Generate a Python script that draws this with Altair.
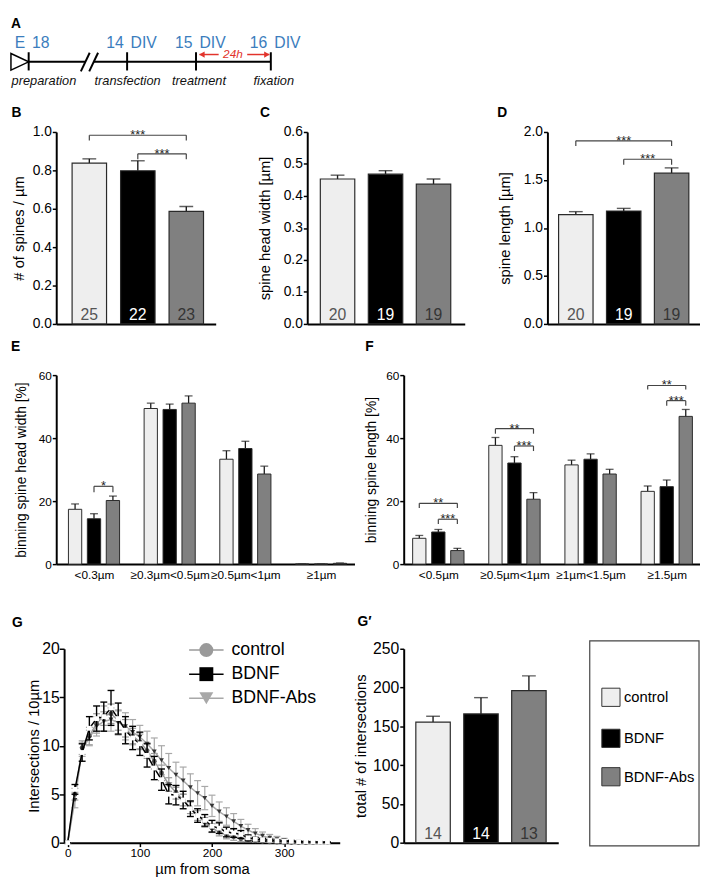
import altair as alt
import pandas as pd

FONT = "Liberation Sans"
BLUE = "#3b7dbd"
RED = "#e2332b"

# ---------------- data ----------------
groups = ["control", "BDNF", "BDNF-Abs"]
bar_fill = ["#eeeeee", "#000000", "#808080"]
n_label_color = ["#555555", "#ffffff", "#353535"]
line_color = ["#9a9a9a", "#000000", "#a8a8a8"]
marker_shape = ["circle", "square", "triangle-down"]

# A: timeline
a_ticks = [22, 122, 192, 268]
a_left = ["E", "14", "15", "16"]
a_right = ["18", "DIV", "DIV", "DIV"]
a_steps = ["preparation", "transfection", "treatment", "fixation"]
a_step_x = [37.5, 122.5, 195, 271]

# B: spine density
spine_density = [0.838, 0.798, 0.586]
spine_density_sem = [0.022, 0.052, 0.026]
spine_density_n = [25, 22, 23]
# C: head width
head_width = [0.453, 0.468, 0.437]
head_width_sem = [0.012, 0.011, 0.016]
head_width_n = [20, 19, 19]
# D: spine length
spine_length = [1.139, 1.177, 1.571]
spine_length_sem = [0.031, 0.027, 0.055]
spine_length_n = [20, 19, 19]

# E: binning head width
width_bins = ["<0.3µm", "≥0.3µm<0.5µm", "≥0.5µm<1µm", "≥1µm"]
width_control = [17.4, 49.4, 33.3, 0.0]
width_control_sem = [1.7, 1.7, 2.7, 0.0]
width_bdnf = [14.4, 49.1, 36.7, 0.0]
width_bdnf_sem = [1.6, 1.7, 2.3, 0.0]
width_abs = [20.2, 51.1, 28.6, 0.25]
width_abs_sem = [1.4, 2.3, 2.5, 0.1]

# F: binning spine length
length_bins = ["<0.5µm", "≥0.5µm<1µm", "≥1µm<1.5µm", "≥1.5µm"]
length_control = [8.2, 37.7, 31.5, 23.1]
length_control_sem = [0.9, 2.5, 1.5, 1.7]
length_bdnf = [10.2, 32.1, 33.3, 24.6]
length_bdnf_sem = [0.8, 2.0, 1.7, 2.1]
length_abs = [4.3, 20.6, 28.6, 46.9]
length_abs_sem = [0.7, 2.1, 1.5, 2.2]

# G: Sholl analysis
distance = [0, 10, 20, 30, 40, 50, 60, 70, 80, 90, 100, 110, 120, 130, 140, 150, 160, 170,
            180, 190, 200, 210, 220, 230, 240, 250, 260, 270, 280, 290, 300, 310, 320, 330,
            340, 350, 360]
ctrl_mean = [0, 5.0, 9.8, 11.0, 12.3, 13.1, 13.3, 12.6, 11.8, 11.0, 10.4, 9.5, 8.4, 7.2, 6.0,
             5.2, 4.4, 3.6, 2.8, 2.1, 1.5, 1.1, 0.8, 0.6, 0.4, 0.3, 0.2, 0.15, 0.1, 0.05, 0.03,
             0.02, 0, 0, 0, 0, 0]
ctrl_sem = [0, 0.6, 0.7, 0.9, 1.0, 1.0, 1.0, 1.0, 0.9, 0.8, 0.8, 0.8, 0.8, 0.8, 0.7, 0.7, 0.6,
            0.6, 0.5, 0.5, 0.45, 0.4, 0.4, 0.35, 0.3, 0.2, 0.15, 0.1, 0.08, 0.05, 0.03, 0.02,
            0, 0, 0, 0, 0]
bdnf_mean = [0, 5.5, 9.3, 11.8, 12.8, 13.0, 13.9, 12.8, 11.6, 10.8, 10.2, 9.0, 7.7, 6.5, 5.0,
             4.9, 4.4, 3.5, 2.8, 2.3, 1.7, 1.5, 1.1, 1.0, 0.85, 0.5, 0.35, 0.3, 0.25, 0.2, 0.15,
             0.15, 0.1, 0.1, 0.08, 0.05, 0.05]
bdnf_sem = [0, 0.5, 0.9, 1.2, 1.3, 1.5, 1.8, 1.6, 1.4, 1.2, 1.2, 1.2, 1.2, 1.1, 1.0, 1.0, 0.9,
            0.8, 0.7, 0.6, 0.6, 0.55, 0.5, 0.45, 0.4, 0.3, 0.2, 0.15, 0.1, 0.1, 0.05, 0.05,
            0.05, 0.05, 0.03, 0.03, 0.02]
abs_mean = [0, 4.4, 9.6, 10.8, 12.0, 12.5, 12.7, 12.4, 12.0, 11.4, 10.9, 10.2, 9.4, 8.5, 7.7,
            7.0, 6.4, 5.7, 5.1, 4.6, 3.8, 3.2, 2.7, 2.2, 1.7, 1.3, 0.95, 0.7, 0.5, 0.35, 0.25,
            0.15, 0.1, 0.05, 0.02, 0, 0]
abs_sem = [0, 0.8, 0.7, 0.8, 1.0, 1.0, 1.2, 1.3, 1.4, 1.3, 1.2, 1.3, 1.4, 1.5, 1.5, 1.3, 1.4,
           1.4, 1.3, 1.2, 1.1, 1.0, 0.9, 0.8, 0.7, 0.6, 0.5, 0.4, 0.35, 0.3, 0.2, 0.15, 0.1,
           0.05, 0.02, 0, 0]

# G': total intersections
total_int = [155.5, 166.0, 196.0]
total_int_sem = [7.5, 21.0, 19.0]
total_int_n = [14, 14, 13]

BAR_STEP = 0.25  # offset of a bar inside its bin group


# ---------------- helpers ----------------
def panel_title(letter, dx, offset):
    return alt.TitleParams(letter, anchor="start", frame="group", dx=dx, offset=offset,
                           fontSize=14, fontWeight="bold", font=FONT, color="black")


def spacer(w, h):
    return alt.Chart(pd.DataFrame({"s": [0]})).mark_point(opacity=0, size=0).properties(
        width=w, height=h)


def bracket_layers(rows, X, Y):
    top = pd.DataFrame(rows)
    top["xmid"] = (top["x1"] + top["x2"]) / 2
    legs = pd.DataFrame([{"x": r[k], "lo": r["ydrop"], "hi": r["ytop"]}
                         for r in rows for k in ("x1", "x2")])
    return [
        alt.Chart(top).mark_rule(color="#444", strokeWidth=1.2).encode(
            x=X("x1"), x2="x2", y=Y("ytop")),
        alt.Chart(legs).mark_rule(color="#444", strokeWidth=1.2).encode(
            x=X("x"), y=Y("lo"), y2="hi"),
        alt.Chart(top).mark_text(baseline="alphabetic", dy=4, fontSize=13, color="#222").encode(
            x=X("xmid"), y=Y("ytop"), text="label:N"),
    ]


def y_axis(values, fmt, title, title_x, height, label_size, title_size, tick=4, pad=1):
    return alt.Axis(values=values, format=fmt, title=title, titleX=title_x, titleY=height / 2,
                    titleAngle=270, titleAlign="center", titleBaseline="middle",
                    titleFontSize=title_size, labelFontSize=label_size, tickSize=tick,
                    labelPadding=pad, grid=False)


def bar_panel(letter, ldx, loff, values, sems, ns, brackets, width, height, x_domain,
              y_max, y_values, y_fmt, y_title, title_x, label_size=14, title_size=15,
              extra=None):
    df = pd.DataFrame({
        "group": groups, "pos": [0, 1, 2], "value": values,
        "top": [v + s for v, s in zip(values, sems)],
        "n": [str(n) for n in ns], "base": [0, 0, 0]})
    xs = alt.Scale(domain=x_domain, nice=False, zero=False)
    ys = alt.Scale(domain=[0, y_max], nice=False)
    xaxis = alt.Axis(labels=False, ticks=False, title=None, grid=False)
    yaxis = y_axis(y_values, y_fmt, y_title, title_x, height, label_size, title_size)

    def X(f):
        return alt.X(f, type="quantitative", scale=xs, axis=xaxis)

    def Y(f):
        return alt.Y(f, type="quantitative", scale=ys, axis=yaxis, stack=None)

    base = alt.Chart(df)
    layers = [
        base.mark_rule(color="#1a1a1a", strokeWidth=1.4).encode(x=X("pos"), y=Y("value"), y2="top"),
        base.mark_tick(orient="horizontal", color="#1a1a1a", size=14, thickness=1.4).encode(
            x=X("pos"), y=Y("top")),
        base.mark_bar(orient="vertical", width=35, stroke="#2a2a2a", strokeWidth=1.2).encode(
            x=X("pos"), y=Y("value"),
            fill=alt.Fill("group:N", scale=alt.Scale(domain=groups, range=bar_fill), legend=None)),
        base.mark_text(baseline="alphabetic", dy=-4, fontSize=16).encode(
            x=X("pos"), y=Y("base"), text="n:N",
            color=alt.Color("group:N", scale=alt.Scale(domain=groups, range=n_label_color),
                            legend=None)),
    ]
    if brackets:
        rows = [{"x1": a, "x2": b, "ytop": t, "ydrop": d, "label": l} for a, b, t, d, l in brackets]
        layers += bracket_layers(rows, X, Y)
    if extra:
        layers += extra
    return alt.layer(*layers).properties(width=width, height=height,
                                         title=panel_title(letter, ldx, loff))


def grouped_panel(letter, ldx, loff, bins, series, sems, brackets, width, height, x_domain,
                  y_title, title_x):
    rows = []
    for gi, g in enumerate(groups):
        for bi in range(len(bins)):
            rows.append({"group": g, "pos": bi + (gi - 1) * BAR_STEP,
                         "value": series[gi][bi], "top": series[gi][bi] + sems[gi][bi]})
    df = pd.DataFrame(rows)
    xs = alt.Scale(domain=x_domain, nice=False, zero=False)
    ys = alt.Scale(domain=[0, 60], nice=False)
    expr = "[" + ",".join("'" + b + "'" for b in bins) + "][datum.value]"
    xaxis = alt.Axis(values=list(range(len(bins))), labelExpr=expr, ticks=False, tickSize=0,
                     labelPadding=6, labelFontSize=12, labelFlush=False, labelOverlap=False,
                     title=None, grid=False)
    yaxis = y_axis([0, 20, 40, 60], "d", y_title, title_x, height, 12, 14)

    def X(f):
        return alt.X(f, type="quantitative", scale=xs, axis=xaxis)

    def Y(f):
        return alt.Y(f, type="quantitative", scale=ys, axis=yaxis, stack=None)

    base = alt.Chart(df)
    layers = [
        base.mark_rule(color="#1a1a1a", strokeWidth=1.3).encode(x=X("pos"), y=Y("value"), y2="top"),
        base.mark_tick(orient="horizontal", color="#1a1a1a", size=8, thickness=1.3).encode(
            x=X("pos"), y=Y("top")),
        base.mark_bar(orient="vertical", width=13.5, stroke="#2a2a2a", strokeWidth=1).encode(
            x=X("pos"), y=Y("value"),
            fill=alt.Fill("group:N", scale=alt.Scale(domain=groups, range=bar_fill), legend=None)),
    ]
    br = [{"x1": b + (g1 - 1) * BAR_STEP, "x2": b + (g2 - 1) * BAR_STEP, "ytop": t, "ydrop": d,
           "label": l} for b, g1, g2, t, d, l in brackets]
    layers += bracket_layers(br, X, Y)
    return alt.layer(*layers).properties(width=width, height=height,
                                         title=panel_title(letter, ldx, loff))


# ---------------- panel A ----------------
xs_a = alt.Scale(domain=[4, 304], nice=False, zero=False)
ys_a = alt.Scale(domain=[4, 84], nice=False, zero=False, reverse=True)


def AX(f):
    return alt.X(f, type="quantitative", scale=xs_a, axis=None)


def AY(f):
    return alt.Y(f, type="quantitative", scale=ys_a, axis=None)


seg_df = pd.DataFrame({"x": [22, 88], "x2": [79.5, 268], "y": [51.7, 51.7]})
slash_df = pd.DataFrame({"x": [75, 83.5], "y": [61.5, 61.5], "x2": [84, 92.5], "y2": [42.5, 42.5]})
tick_df = pd.DataFrame({"x": a_ticks, "y": [42] * 4, "y2": [60.5] * 4})
tri_df = pd.DataFrame({"x": [13], "y": [51.7]})
stage_df = pd.DataFrame({"x": a_ticks, "y": [38] * 4, "l": a_left, "r": a_right})
step_df = pd.DataFrame({"x": a_step_x, "y": [71.7] * 4, "t": a_steps})
red_df = pd.DataFrame({"x": [195.5, 244], "x2": [215, 266.5], "y": [44.3, 44.3]})
head_df = pd.DataFrame({"x": [198.0, 264.0], "y": [44.3, 44.3], "s": ["left", "right"]})
lbl24_df = pd.DataFrame({"x": [229.5], "y": [44.3], "t": ["24h"]})
letter_df = pd.DataFrame({"x": [4], "y": [17], "t": ["A"]})

panel_a = alt.layer(
    alt.Chart(seg_df).mark_rule(color="black", strokeWidth=2).encode(x=AX("x"), x2="x2", y=AY("y")),
    alt.Chart(slash_df).mark_rule(color="black", strokeWidth=2).encode(
        x=AX("x"), y=AY("y"), x2="x2", y2="y2"),
    alt.Chart(tick_df).mark_rule(color="black", strokeWidth=2).encode(x=AX("x"), y=AY("y"), y2="y2"),
    alt.Chart(tri_df).mark_point(shape="M-1,-0.94L1,0L-1,0.94Z", size=324, filled=True,
                                 fill="white", stroke="black", strokeWidth=1.5, opacity=1).encode(
        x=AX("x"), y=AY("y")),
    alt.Chart(stage_df).mark_text(align="right", baseline="alphabetic", dx=-3.5, fontSize=16,
                                  color=BLUE).encode(x=AX("x"), y=AY("y"), text="l:N"),
    alt.Chart(stage_df).mark_text(align="left", baseline="alphabetic", dx=3.5, fontSize=16,
                                  color=BLUE).encode(x=AX("x"), y=AY("y"), text="r:N"),
    alt.Chart(step_df).mark_text(align="center", baseline="middle", fontSize=13,
                                 fontStyle="italic", color="#111").encode(
        x=AX("x"), y=AY("y"), text="t:N"),
    alt.Chart(red_df).mark_rule(color=RED, strokeWidth=1.5).encode(x=AX("x"), x2="x2", y=AY("y")),
    alt.Chart(head_df[head_df.s == "left"]).mark_point(shape="triangle-left", size=40, filled=True,
                                                        color=RED, opacity=1).encode(
        x=AX("x"), y=AY("y")),
    alt.Chart(head_df[head_df.s == "right"]).mark_point(shape="triangle-right", size=40, filled=True,
                                                         color=RED, opacity=1).encode(
        x=AX("x"), y=AY("y")),
    alt.Chart(lbl24_df).mark_text(align="center", baseline="middle", fontSize=12,
                                  fontStyle="italic", color=RED).encode(
        x=AX("x"), y=AY("y"), text="t:N"),
    alt.Chart(letter_df).mark_text(align="left", baseline="alphabetic", fontSize=14,
                                   fontWeight="bold", color="black").encode(
        x=AX("x"), y=AY("y"), text="t:N"),
).properties(width=300, height=80)

# ---------------- panels B, C, D ----------------
panel_b = bar_panel("B", -45.5, 5, spine_density, spine_density_sem, spine_density_n,
                    [(0, 2, 0.983, 0.955, "***"), (1, 2, 0.886, 0.858, "***")],
                    162, 195, [-0.581, 2.505], 1.0, [0, 0.2, 0.4, 0.6, 0.8, 1.0], ".1f",
                    "# of spines / µm", -38)
panel_c = bar_panel("C", -48, 5, head_width, head_width_sem, head_width_n, None,
                    160, 195, [-0.529, 2.548], 0.6, [0, 0.1, 0.2, 0.3, 0.4, 0.5, 0.6], ".1f",
                    "spine head width [µm]", -43)
panel_d = bar_panel("D", -51, 5, spine_length, spine_length_sem, spine_length_n,
                    [(0, 2, 1.908, 1.853, "***"), (1, 2, 1.716, 1.658, "***")],
                    155, 195, [-0.490, 2.490], 2.0, [0, 0.5, 1.0, 1.5, 2.0], ".1f",
                    "spine length [µm]", -44)

# ---------------- panels E, F ----------------
panel_e = grouped_panel("E", -46, 16, width_bins,
                        [width_control, width_bdnf, width_abs],
                        [width_control_sem, width_bdnf_sem, width_abs_sem],
                        [(0, 1, 2, 24.7, 22.8, "*")],
                        303, 192, [-0.434, 3.377], "binning spine head width [%]", -35)
panel_f = grouped_panel("F", -39, 16, length_bins,
                        [length_control, length_bdnf, length_abs],
                        [length_control_sem, length_bdnf_sem, length_abs_sem],
                        [(0, 0, 2, 19.3, 17.8, "**"), (0, 1, 2, 14.25, 12.7, "***"),
                         (1, 0, 2, 43.0, 41.4, "**"), (1, 1, 2, 37.5, 35.9, "***"),
                         (3, 0, 2, 56.7, 55.4, "**"), (3, 1, 2, 51.9, 50.3, "***")],
                        301, 192, [-0.39, 3.3725], "binning spine length [%]", -33)

# ---------------- panel G ----------------
g_rows = []
for s, means, errs in zip(groups, [ctrl_mean, bdnf_mean, abs_mean], [ctrl_sem, bdnf_sem, abs_sem]):
    for d, m, e in zip(distance, means, errs):
        g_rows.append({"series": s, "dist": d, "mean": m, "lo": m - e, "hi": m + e})
g_df = pd.DataFrame(g_rows)

G_H = 197
gxs = alt.Scale(domain=[-5, 377], nice=False, zero=False)
gys = alt.Scale(domain=[0, 20], nice=False)
gxaxis = alt.Axis(values=[0, 100, 200, 300], title="µm from soma", labelFontSize=12,
                  titleFontSize=15, tickSize=4, labelPadding=1, titlePadding=3,
                  labelFlush=False, labelOverlap=False, grid=False)
gyaxis = y_axis([0, 5, 10, 15, 20], "d", "Intersections / 10µm", -31, G_H, 16, 15, tick=5, pad=0)

stroke_enc = alt.Stroke("series:N", scale=alt.Scale(domain=groups, range=line_color), legend=None)
color_enc = alt.Color("series:N", scale=alt.Scale(domain=groups, range=line_color), legend=None)
shape_enc = alt.Shape("series:N", scale=alt.Scale(domain=groups, range=marker_shape), legend=None)


def GX(f):
    return alt.X(f, type="quantitative", scale=gxs, axis=gxaxis)


def GY(f):
    return alt.Y(f, type="quantitative", scale=gys, axis=gyaxis)


def g_layers(flt, err_w):
    base = alt.Chart(g_df).transform_filter(flt)
    return [
        base.mark_rule(strokeWidth=err_w).encode(x=GX("dist"), y=GY("lo"), y2="hi", stroke=stroke_enc),
        base.mark_point(shape="stroke", size=49, strokeWidth=err_w, opacity=1).encode(
            x=GX("dist"), y=GY("lo"), stroke=stroke_enc),
        base.mark_point(shape="stroke", size=49, strokeWidth=err_w, opacity=1).encode(
            x=GX("dist"), y=GY("hi"), stroke=stroke_enc),
        base.mark_line(strokeWidth=1.5).encode(x=GX("dist"), y=GY("mean"), stroke=stroke_enc),
        base.mark_point(filled=True, size=24, opacity=1).encode(
            x=GX("dist"), y=GY("mean"), color=color_enc, shape=shape_enc),
    ]


# in-plot legend of panel G (line + marker + label)
legend_rows_y = [1.3, 25.8, 50.3]
g_legend = []
for i, g in enumerate(groups):
    ldf = pd.DataFrame({"t": [g]})
    yv = alt.value(legend_rows_y[i])
    g_legend += [
        alt.Chart(ldf).mark_rule(color=line_color[i], strokeWidth=1.5).encode(
            x=alt.value(127), x2=alt.value(162), y=yv),
        alt.Chart(ldf).mark_point(shape=marker_shape[i], size=200, filled=True,
                                  color=line_color[i], opacity=1).encode(x=alt.value(144.5), y=yv),
        alt.Chart(ldf).mark_text(align="left", baseline="middle", fontSize=18, color="black").encode(
            x=alt.value(170), y=yv, text="t:N"),
    ]

panel_g = alt.layer(
    *g_layers(alt.datum.series != "BDNF", 1.2),
    *g_layers(alt.datum.series == "BDNF", 1.4),
    *g_legend,
).properties(width=280, height=G_H, title=panel_title("G", -53, 11))

# ---------------- legend box (drawn beside panel G') ----------------
box_rows_y = [49.3, 91, 130]
box_df = pd.DataFrame({"t": ["box"]})
box_layers = [
    alt.Chart(box_df).mark_rect(filled=False, stroke="#444", strokeWidth=1.2, fill=None).encode(
        x=alt.value(189), x2=alt.value(300), y=alt.value(-8), y2=alt.value(200.3)),
]
for i, g in enumerate(groups):
    ldf = pd.DataFrame({"t": [g]})
    yv = alt.value(box_rows_y[i])
    box_layers += [
        alt.Chart(ldf).mark_square(size=342, color=bar_fill[i], stroke="#333", strokeWidth=1,
                                   opacity=1).encode(x=alt.value(210.5), y=yv),
        alt.Chart(ldf).mark_text(align="left", baseline="middle", fontSize=15, color="black").encode(
            x=alt.value(223.7), y=yv, text="t:N"),
    ]

panel_gp = bar_panel("G′", -47, 11.7, total_int, total_int_sem, total_int_n, None,
                     157, 197, [-0.5096, 2.5096], 250, [0, 50, 100, 150, 200, 250], "d",
                     "total # of intersections", -44, label_size=16, title_size=15,
                     extra=box_layers)

# ---------------- layout ----------------
row_bcd = alt.hconcat(spacer(46, 1), panel_b, spacer(93, 1), panel_c, spacer(84, 1), panel_d,
                      spacing=0, bounds="flush")
row_ef = alt.hconcat(spacer(46, 1), panel_e, spacer(50, 1), panel_f, spacing=0, bounds="flush")
row_g = alt.hconcat(spacer(54, 1), panel_g, spacer(65, 1), panel_gp, spacing=0, bounds="flush")

chart = alt.vconcat(panel_a, spacer(1, 12.8), row_bcd, spacer(1, 8.5), row_ef, spacer(1, 34),
                    row_g, spacing=0).properties(padding=0)

chart = chart.configure(font=FONT).configure_view(stroke=None).configure_axis(
    domainColor="black", domainWidth=2, tickColor="black", tickWidth=1.5, labelColor="black",
    titleColor="black", labelFont=FONT, titleFont=FONT, titleFontWeight="normal", grid=False
).configure_text(font=FONT)

chart.save("out.html", embed_options={"renderer": "svg", "actions": False})
